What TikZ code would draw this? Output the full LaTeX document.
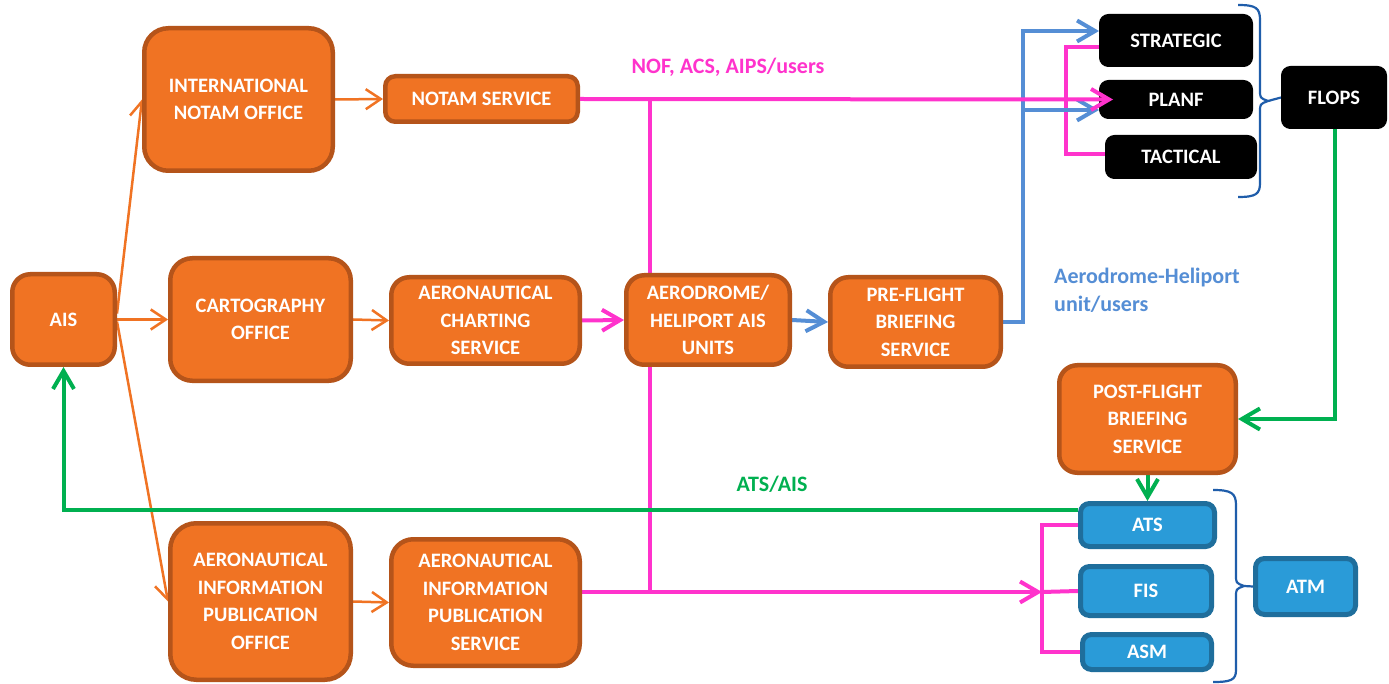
\documentclass[tikz,border=0pt]{standalone}
\usepackage{fontspec}
\setmainfont{Carlito}
\usetikzlibrary{arrows.meta,backgrounds}

\definecolor{boxorange}{HTML}{F07323}
\definecolor{boxorangeedge}{HTML}{B5541A}
\definecolor{boxblue}{HTML}{2A9BD8}
\definecolor{boxblueedge}{HTML}{1F6E9C}
\definecolor{linkmagenta}{HTML}{FF33CC}
\definecolor{linkblue}{HTML}{558ED5}
\definecolor{linkgreen}{HTML}{00B050}
\definecolor{linkorange}{HTML}{F07323}
\definecolor{bracecol}{HTML}{1F5DAA}

\begin{document}
\begin{tikzpicture}[x=1pt,y=-1pt,
  txt/.style={font=\fontsize{20.5}{27.5}\selectfont\bfseries, text=white, align=center, inner sep=0pt},
  obox/.style={txt, draw=boxorangeedge, fill=boxorange, line width=4.5pt, rounded corners=#1},
  obox/.default=18pt,
  kbox/.style={txt, draw=black, fill=black, line width=1pt, rounded corners=9pt},
  bbox/.style={txt, draw=boxblueedge, fill=boxblue, line width=5pt, rounded corners=9pt},
  label/.style={font=\fontsize{22}{27.5}\selectfont\bfseries, inner sep=0pt},
  tipped/.style={-{Straight Barb[length=18pt,width=21pt]}},
  orangelink/.style={draw=linkorange, line width=2.5pt, -{Straight Barb[length=15pt,width=20pt]}},
  magline/.style={draw=linkmagenta, line width=4pt},
  blueline/.style={draw=linkblue, line width=4pt},
  greenline/.style={draw=linkgreen, line width=4pt},
  braceline/.style={draw=bracecol, line width=2.2pt}]

\useasboundingbox (0,0) rectangle (1389,684);

% ---- AIS offices and services
\node[obox] (ais) at (63.5,319.5) [minimum width=102.5pt, minimum height=90.5pt] {AIS};
\node[obox=24pt] (intl) at (238.5,99.5) [minimum width=188.5pt, minimum height=142.5pt] {INTERNATIONAL\\NOTAM OFFICE};
\node[obox=10pt] (notam) at (481.5,99) [minimum width=192.5pt, minimum height=45.5pt] {NOTAM SERVICE};
\node[obox=22pt] (carto) at (260.5,319.5) [minimum width=180.5pt, minimum height=122.5pt] {CARTOGRAPHY\\OFFICE};
\node[obox] (chart) at (485.5,320.5) [minimum width=188.5pt, minimum height=86.5pt] {AERONAUTICAL\\CHARTING\\SERVICE};
\node[obox] (aero) at (708,320) [minimum width=163.5pt, minimum height=89.5pt] {AERODROME/\\HELIPORT AIS\\UNITS};
\node[obox] (pre) at (915.5,322) [minimum width=170.5pt, minimum height=89.5pt] {PRE-FLIGHT\\BRIEFING\\SERVICE};
\node[obox=26pt] (aipo) at (260.5,601.5) [minimum width=180.5pt, minimum height=156.5pt] {AERONAUTICAL\\INFORMATION\\PUBLICATION\\OFFICE};
\node[obox=22pt] (aips) at (485.5,602.5) [minimum width=188.5pt, minimum height=126.5pt] {AERONAUTICAL\\INFORMATION\\PUBLICATION\\SERVICE};
\node[obox] (post) at (1147.5,419) [minimum width=176.5pt, minimum height=107.5pt] {POST-FLIGHT\\BRIEFING\\SERVICE};

% ---- flight operations
\node[kbox] (strategic) at (1176,40.5) [minimum width=153pt, minimum height=52pt] {STRATEGIC};
\node[kbox] (planf) at (1176,99.5) [minimum width=153pt, minimum height=38pt] {PLANF};
\node[kbox] (tactical) at (1181,157) [minimum width=151pt, minimum height=43pt] {TACTICAL};
\node[kbox] (flops) at (1334,97.5) [minimum width=105pt, minimum height=62pt] {FLOPS};

% ---- air traffic management
\node[bbox] (ats) at (1147.5,525) [minimum width=134pt, minimum height=43pt] {ATS};
\node[bbox] (fis) at (1146,591) [minimum width=131pt, minimum height=49pt] {FIS};
\node[bbox] (asm) at (1147,652) [minimum width=129pt, minimum height=35pt] {ASM};
\node[bbox] (atm) at (1305.5,586.5) [minimum width=100pt, minimum height=56pt] {ATM};

% ---- labels
\node[label, text=linkmagenta, anchor=base] (noflabel) at (728,74) {NOF, ACS, AIPS/users};
\node[label, text=linkblue, anchor=north west, align=left] (adlabel) at (1054,268) {Aerodrome-Heliport\\unit/users};
\node[label, text=linkgreen, anchor=base] (atslabel) at (772,491) {ATS/AIS};

% ---- junction points
\coordinate (mtop) at (650,99);
\coordinate (mbot) at (650,592);
\coordinate (mfis) at (1042,592);
\coordinate (mstr) at (1066,47);
\coordinate (mtac) at (1066,154);
\coordinate (bjoin) at (1023,322);
\coordinate (gturn) at (1335,419);
\coordinate (tipk) at (1268,101);
\coordinate (tipb) at (1244,586);

\begin{scope}[on background layer]
  \fill[white] (0,0) rectangle (1389,684);

  % orange links from AIS
  \draw[orangelink] ([yshift=6pt]ais.east) -- (intl.west);
  \draw[orangelink] (ais.east) -- (carto.west);
  \draw[orangelink] ([yshift=-2pt]ais.east) -- (aipo.west);
  \draw[orangelink] (intl.east) -- (notam.west);
  \draw[orangelink] (carto.east) -- (chart.west);
  \draw[orangelink] (aipo.east) -- (aips.west);

  % magenta distribution
  \draw[magline] (mtop) -- (mbot);
  \draw[magline, tipped] (chart.east) -- (aero.west);
  \draw[magline, tipped] (aips.east |- mbot) -- (mfis);
  \draw[magline] (ats.west) -| (mfis) |- (asm.west);
  \draw[magline] (mfis) -- (fis.west);
  \draw[magline] (strategic.west |- mstr) -- (mstr) -- (mtac) -- (tactical.west |- mtac);

  % blue links
  \draw[blueline, tipped] (aero.east) -- (pre.west);
  \draw[blueline, tipped] (pre.east |- bjoin) -- (bjoin) |- ([yshift=9.5pt]strategic.west);
  \draw[blueline, tipped] ([yshift=-10.5pt]planf.west -| bjoin) -- ([yshift=-10.5pt]planf.west);

  % green feedback
  \draw[greenline, tipped] (flops.south -| gturn) |- (post.east);
  \draw[greenline, tipped] (post.south) -- (ats.north);
  \draw[greenline, tipped] ([yshift=15pt]ats.west) -| (ais.south);

  % braces
  \draw[braceline] (1238,5) .. controls (1256,5) and (1260,8) .. (1260,20) -- (1260,90)
     .. controls (1260,98) .. (tipk) .. controls (1260,104) .. (1260,112) -- (1260,183)
     .. controls (1260,194) and (1256,197) .. (1238,197);
  \draw[braceline] (tipk) -- (flops.west);
  \draw[braceline] (1213,490) .. controls (1231,490) and (1236,493) .. (1236,505) -- (1236,575)
     .. controls (1236,583) .. (tipb) .. controls (1236,589) .. (1236,597) -- (1236,670)
     .. controls (1236,680) and (1231,682) .. (1213,682);
  \draw[braceline] (tipb) -- (atm.west);
\end{scope}

% NOTAM distribution line, drawn over the PLANF box
\draw[magline, tipped] (notam.east) -- ([xshift=14pt]planf.west);

\end{tikzpicture}
\end{document}
